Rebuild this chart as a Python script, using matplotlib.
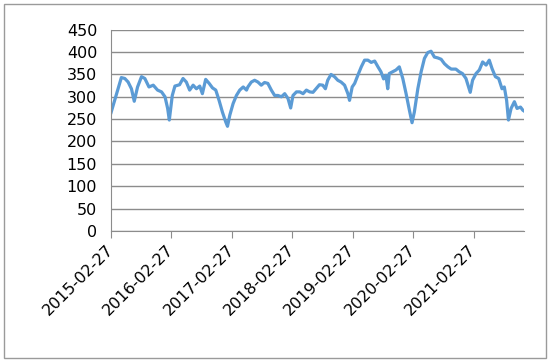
import matplotlib
matplotlib.use("Agg")
import matplotlib.pyplot as plt
import pandas as pd
from matplotlib.patches import Rectangle

# values (approximate)
dates = [
    "2015-02-27", "2015-04-30", "2015-05-21", "2015-06-10", "2015-06-30", "2015-07-17",
    "2015-08-06", "2015-08-30", "2015-09-19", "2015-10-14", "2015-11-09", "2015-12-05",
    "2015-12-29", "2016-01-19", "2016-02-04", "2016-02-14", "2016-03-03", "2016-03-19",
    "2016-04-16", "2016-05-07", "2016-05-27", "2016-06-16", "2016-07-07", "2016-07-27",
    "2016-08-16", "2016-09-01", "2016-09-21", "2016-10-12", "2016-11-01", "2016-11-21",
    "2016-12-11", "2016-12-31", "2017-01-20", "2017-01-31", "2017-02-14", "2017-03-06",
    "2017-03-26", "2017-04-15", "2017-05-06", "2017-05-26", "2017-06-03", "2017-06-24",
    "2017-07-14", "2017-08-03", "2017-08-23", "2017-09-12", "2017-10-02", "2017-10-23",
    "2017-11-12", "2017-12-02", "2017-12-23", "2018-01-12", "2018-02-01", "2018-02-17",
    "2018-03-03", "2018-03-24", "2018-04-13", "2018-05-03", "2018-05-23", "2018-06-12",
    "2018-07-02", "2018-07-20", "2018-08-10", "2018-08-30", "2018-09-15", "2018-09-29",
    "2018-10-19", "2018-11-09", "2018-11-29", "2018-12-19", "2019-01-09", "2019-01-29",
    "2019-02-08", "2019-02-24", "2019-03-11", "2019-03-30", "2019-04-20", "2019-05-10",
    "2019-05-30", "2019-06-19", "2019-07-10", "2019-07-30", "2019-08-17", "2019-09-02",
    "2019-09-16", "2019-09-27", "2019-10-06", "2019-10-27", "2019-11-16", "2019-12-06",
    "2019-12-27", "2020-01-16", "2020-02-05", "2020-02-21", "2020-03-06", "2020-03-27",
    "2020-04-16", "2020-05-06", "2020-05-26", "2020-06-15", "2020-07-05", "2020-07-26",
    "2020-08-15", "2020-09-04", "2020-09-25", "2020-10-15", "2020-11-12", "2020-12-02",
    "2020-12-22", "2021-01-12", "2021-01-28", "2021-02-07", "2021-02-21", "2021-03-14",
    "2021-04-03", "2021-04-23", "2021-05-14", "2021-06-02", "2021-06-19", "2021-07-09",
    "2021-07-29", "2021-08-18", "2021-09-01", "2021-09-15", "2021-09-26", "2021-10-12",
    "2021-11-01", "2021-11-17", "2021-12-08", "2021-12-22", "2021-12-30",
]
values = [
    265, 343, 341, 333, 318, 290,
    322, 345, 341, 322, 326, 315,
    311, 300, 274, 248, 303, 324,
    327, 341, 333, 315, 326, 318,
    324, 307, 339, 330, 320, 315,
    292, 266, 244, 234, 259, 285,
    303, 315, 322, 315, 322, 333,
    337, 333, 326, 332, 330, 315,
    303, 303, 300, 307, 296, 275,
    303, 311, 311, 307, 315, 311,
    310, 318, 327, 326, 318, 337,
    350, 345, 337, 333, 326, 307,
    292, 322, 330, 348, 367, 382,
    382, 377, 380, 367, 356, 340,
    348, 318, 352, 356, 360, 367,
    341, 307, 270, 242, 266, 318,
    356, 386, 399, 402, 389, 387,
    384, 374, 367, 362, 362, 356,
    352, 341, 322, 310, 337, 352,
    360, 378, 371, 382, 363, 345,
    341, 318, 322, 292, 248, 274,
    289, 274, 277, 270, 268,
]
tick_dates = ["2015-02-27", "2016-02-27", "2017-02-27", "2018-02-27",
              "2019-02-27", "2020-02-27", "2021-02-27"]
y_ticks = list(range(0, 451, 50))

plt.rcParams['font.family'] = ['DejaVu Sans']

x = pd.to_datetime(dates)
xt = pd.to_datetime(tick_dates)

fig = plt.figure(figsize=(5.5, 3.63), dpi=100)
ax = fig.add_axes([0.202, 0.364, 0.751, 0.554])

ax.plot(x, values, color="#5B9BD5", lw=2.3, solid_joinstyle="round")

ax.set_ylim(0, 450)
ax.set_yticks(y_ticks)
ax.set_xlim(x[0], x[-1])
ax.set_xticks(xt)
ax.set_xticklabels(tick_dates, rotation=45, ha="right", va="center",
                   rotation_mode="anchor")

grid_c = "#8c8c8c"
ax.grid(axis="y", color=grid_c, lw=1)
ax.set_axisbelow(True)
for s in ["top", "right"]:
    ax.spines[s].set_visible(False)
ax.spines["left"].set_color(grid_c)
ax.spines["bottom"].set_color(grid_c)
ax.tick_params(axis="y", length=0, pad=10, labelsize=11.5, colors="black")
ax.tick_params(axis="x", length=5, color=grid_c, pad=7, labelsize=11.5)

# chart border
fig.patches.append(Rectangle((0.008, 0.014), 0.984, 0.975, transform=fig.transFigure,
                             fill=False, edgecolor="#9a9a9a", lw=1))

fig.savefig("out.png", dpi=100)
